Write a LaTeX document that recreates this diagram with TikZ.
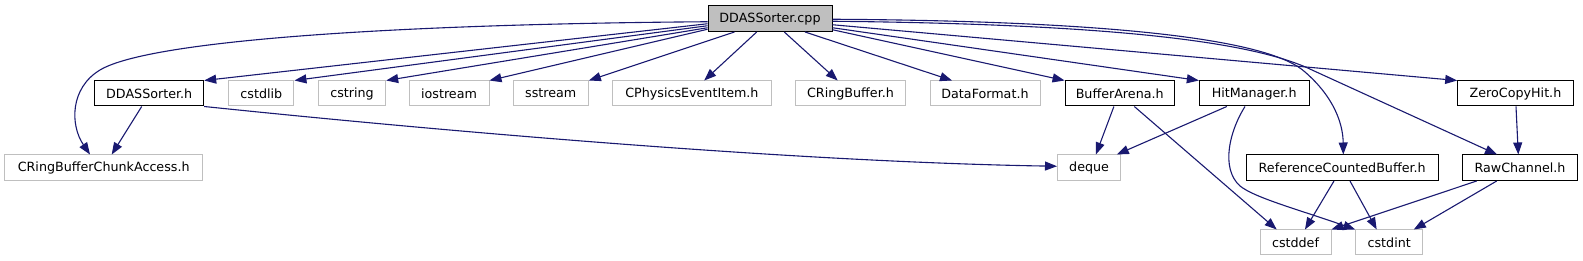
\documentclass[tikz,border=0pt]{standalone}
\usepackage{fontspec}
\setmainfont{DejaVu Sans}
\usetikzlibrary{arrows.meta,calc}
\definecolor{edgec}{HTML}{191970}
\definecolor{greyb}{HTML}{BFBFBF}
\begin{document}
\begin{tikzpicture}[x=1pt,y=-1pt,
  box/.style={rectangle, inner sep=0pt, minimum height=25pt, line width=1pt,
    font=\fontsize{12.7}{15}\selectfont, text=black},
  doc/.style={box, draw=black},
  ext/.style={box, draw=greyb},
  rootbox/.style={box, draw=black, fill=greyb},
  dep/.style={draw=edgec, line width=1.1pt, -{Triangle[length=12pt,width=9pt]}}]
\useasboundingbox (0,0) rectangle (1583,261);
% row 0
\node[rootbox, minimum width=124pt, minimum height=25.5pt] (root) at (770,18.75) {DDASSorter.cpp};
% row 1
\node[doc, minimum width=109pt] (ddh) at (149.2,93.5) {DDASSorter.h};
\node[ext, minimum width=65.3pt] (cstdlib) at (261.3,93.5) {cstdlib};
\node[ext, minimum width=67.4pt] (cstring) at (352,93.5) {cstring};
\node[ext, minimum width=80pt] (iostream) at (449,93.5) {iostream};
\node[ext, minimum width=75.3pt] (sstream) at (550.7,93.5) {sstream};
\node[ext, minimum width=159.2pt] (cpei) at (691.9,93.5) {CPhysicsEventItem.h};
\node[ext, minimum width=110.9pt] (crb) at (850.5,93.5) {CRingBuffer.h};
\node[ext, minimum width=110pt] (df) at (985,93.5) {DataFormat.h};
\node[doc, minimum width=109.3pt] (ba) at (1119.7,93.5) {BufferArena.h};
\node[doc, minimum width=109.7pt] (hm) at (1254.2,93.5) {HitManager.h};
\node[doc, minimum width=115.6pt] (zch) at (1515.5,93.5) {ZeroCopyHit.h};
% row 2
\node[ext, minimum width=198pt, minimum height=25.5pt] (crbca) at (103.7,167.75) {CRingBufferChunkAccess.h};
\node[ext, minimum width=63.2pt, minimum height=25.5pt] (deque) at (1089.1,167.75) {deque};
\node[doc, minimum width=192.3pt, minimum height=25.5pt] (rcb) at (1342.2,167.75) {ReferenceCountedBuffer.h};
\node[doc, minimum width=115.4pt, minimum height=25.5pt] (raw) at (1520,167.75) {RawChannel.h};
% row 3
\node[ext, minimum width=71pt] (cstddef) at (1295.5,242.5) {cstddef};
\node[ext, minimum width=67pt] (cstdint) at (1389.2,242.5) {cstdint};
% edges from root
\draw[dep] ($(root.west)+(0,3)$) .. controls (400,24) and (150,40) .. (100,70)
  .. controls (70,88) and (70,125) .. ($(crbca.north)+(-13.7,0)$);
\draw[dep] ($(root.west)+(0,5)$) -- (ddh.north east);
\draw[dep] ($(root.west)+(0,7)$) -- (cstdlib.north east);
\draw[dep] ($(root.west)+(0,9)$) -- (cstring.north east);
\draw[dep] ($(root.west)+(0,10.5)$) -- (iostream.north east);
\draw[dep] ($(root.south west)+(27,0)$) -- (sstream.north east);
\draw[dep] ($(root.south)+(-13.3,0)$) -- ($(cpei.north)+(12.3,0)$);
\draw[dep] ($(root.south)+(14.3,0)$) -- ($(crb.north)+(-12.8,0)$);
\draw[dep] ($(root.south)+(35,0)$) -- ($(df.north)+(-33,0)$);
\draw[dep] ($(root.east)+(0,11)$) -- (ba.north west);
\draw[dep] ($(root.east)+(0,9)$) -- (hm.north west);
\draw[dep] ($(root.east)+(0,0.5)$) .. controls (1120,21) and (1270,40) .. (1305,72)
  .. controls (1335,98) and (1343,125) .. ($(rcb.north)+(1.1,0)$);
\draw[dep] ($(root.east)+(0,2.5)$) .. controls (1100,24) and (1250,40) .. (1312,70)
  -- ($(raw.north)+(-23,0)$);
\draw[dep] ($(root.east)+(0,6)$) -- (zch.north west);
% other edges
\draw[dep] ($(ddh.south)+(-7.5,0)$) -- ($(crbca.north)+(8,0)$);
\draw[dep] (ddh.south east) .. controls (450,132) and (800,162) .. ($(deque.west)+(0,-1.5)$);
\draw[dep] ($(ba.south)+(-5.8,0)$) -- ($(deque.north)+(6.8,0)$);
\draw[dep] ($(ba.south)+(14.6,0)$) -- ($(cstddef.north)+(-18.8,0)$);
\draw[dep] ($(hm.south)+(-27.4,0)$) -- ($(deque.north east)+(-4.4,0)$);
\draw[dep] ($(hm.south)+(-9.2,0)$) .. controls (1230,130) and (1220,168) .. (1240,186)
  .. controls (1255,198) and (1300,210) .. (cstdint.north west);
\draw[dep] ($(rcb.south)+(-8.2,0)$) -- ($(cstddef.north)+(9.5,0)$);
\draw[dep] ($(rcb.south)+(7.8,0)$) -- ($(cstdint.north)+(-12.5,0)$);
\draw[dep] ($(raw.south)+(-43.3,0)$) -- (cstddef.north east);
\draw[dep] ($(raw.south)+(-23.3,0)$) -- ($(cstdint.north east)+(-9.4,0)$);
\draw[dep] ($(zch.south)+(0.5,0)$) -- ($(raw.north)+(-1.7,0)$);
\end{tikzpicture}
\end{document}
